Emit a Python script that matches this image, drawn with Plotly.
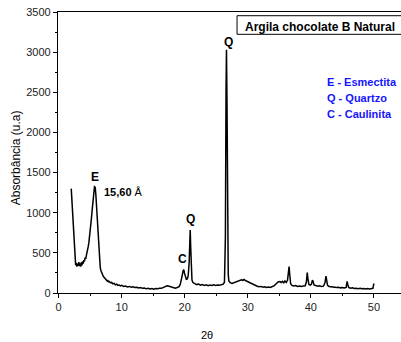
import plotly.graph_objects as go

two_theta = [2.00, 2.05, 2.10, 2.20, 2.30, 2.40, 2.50, 2.60, 2.70, 2.80, 2.90, 3.00, 3.10, 3.20, 3.30, 3.40, 3.50, 3.60, 3.70, 3.80, 3.90,
             4.00, 4.10, 4.20, 4.30, 4.40, 4.50, 4.60, 4.70, 4.80, 4.90, 5.00, 5.10, 5.20, 5.30, 5.40, 5.50, 5.60, 5.65, 5.70, 5.75,
             5.80, 5.85, 5.90, 6.00, 6.10, 6.20, 6.30, 6.40, 6.50, 6.60, 6.70, 6.80, 6.90, 7.00, 7.10, 7.20, 7.30, 7.40, 7.50, 7.60,
             7.70, 7.80, 7.90, 8.00, 8.20, 8.40, 8.60, 8.80, 9.00, 9.20, 9.40, 9.60, 9.80, 10.0, 10.3, 10.6, 10.9, 11.2, 11.5, 11.8,
             12.1, 12.4, 12.7, 13.0, 13.3, 13.6, 13.9, 14.2, 14.5, 14.8, 15.1, 15.4, 15.7, 16.0, 16.3, 16.6, 16.9, 17.2, 17.4, 17.6,
             17.9, 18.2, 18.5, 18.8, 19.1, 19.3, 19.45, 19.6, 19.75, 19.85, 19.95, 20.1, 20.25, 20.4, 20.55, 20.7, 20.8, 20.87, 20.95,
             21.05, 21.15, 21.3, 21.6, 21.9, 22.2, 22.5, 22.8, 23.1, 23.4, 23.7, 24.0, 24.3, 24.6, 24.9, 25.2, 25.5, 25.8, 26.1, 26.3,
             26.45, 26.55, 26.62, 26.70, 26.80, 26.90, 27.0, 27.2, 27.5, 27.8, 28.1, 28.4, 28.7, 29.0, 29.2, 29.4, 29.7, 30.0, 30.3,
             30.6, 30.9, 31.2, 31.5, 31.8, 32.1, 32.4, 32.7, 33.0, 33.3, 33.6, 33.9, 34.2, 34.5, 34.8, 35.1, 35.3, 35.5, 35.7, 35.9,
             36.1, 36.3, 36.45, 36.55, 36.65, 36.8, 37.0, 37.3, 37.6, 37.9, 38.2, 38.5, 38.8, 39.1, 39.3, 39.43, 39.53, 39.7, 39.9,
             40.1, 40.25, 40.35, 40.5, 40.8, 41.1, 41.4, 41.7, 42.0, 42.25, 42.4, 42.5, 42.65, 42.9, 43.2, 43.5, 43.8, 44.1, 44.4,
             44.7, 45.0, 45.3, 45.6, 45.75, 45.85, 46.0, 46.3, 46.6, 46.9, 47.2, 47.5, 47.8, 48.1, 48.4, 48.7, 49.0, 49.3, 49.6,
             49.85, 49.95, 50.0]

intensity = [1300, 1230, 1120, 940, 760, 600, 470, 390, 345, 375, 330, 365, 340, 385, 335, 370, 330, 380, 345, 395, 365,
             410, 395, 440, 425, 470, 500, 540, 580, 630, 690, 760, 840, 930, 1020, 1120, 1210, 1290, 1250, 1335, 1280,
             1320, 1270, 1230, 1100, 940, 770, 620, 490, 390, 320, 280, 255, 235, 215, 205, 195, 185, 180, 170, 165,
             150, 155, 140, 145, 128, 132, 115, 120, 102, 110, 95, 100, 88, 95, 82, 88, 76, 82, 72, 78,
             68, 72, 62, 68, 58, 62, 52, 58, 50, 56, 48, 55, 52, 60, 58, 70, 78, 90, 88, 82,
             70, 66, 60, 68, 80, 110, 150, 220, 280, 290, 250, 195, 170, 175, 215, 380, 720, 785, 560,
             260, 160, 130, 118, 105, 112, 98, 105, 95, 102, 92, 100, 93, 101, 94, 100, 96, 104, 110, 135,
             700, 2500, 3030, 2400, 700, 230, 150, 128, 120, 130, 138, 150, 158, 165, 158, 168, 152, 140, 128,
             115, 100, 92, 85, 78, 82, 72, 78, 70, 75, 68, 78, 92, 115, 138, 142, 130, 145, 128, 150,
             132, 158, 260, 330, 230, 115, 95, 88, 92, 82, 88, 80, 86, 90, 140, 255, 180, 105, 98,
             110, 160, 150, 100, 90, 85, 90, 80, 85, 130, 210, 160, 95, 82, 78, 72, 76, 68, 72,
             64, 68, 62, 70, 145, 110, 70, 60, 64, 56, 60, 54, 58, 52, 57, 50, 56, 50, 55,
             58, 100, 118]

peak_labels = ["E", "Q", "C", "Q"]
peak_label_x = [5.78, 26.9, 19.7, 20.86]
peak_label_y = [1448, 3125, 420, 921]

legend_lines = ["E - Esmectita", "Q - Quartzo", "C - Caulinita"]
legend_y = [2628, 2428, 2229]

FONT = "Arial, 'Liberation Sans', sans-serif"

fig = go.Figure()
fig.add_trace(go.Scatter(x=two_theta, y=intensity, mode="lines",
                         line=dict(color="black", width=1.5), showlegend=False))

for t, x, y in zip(peak_labels, peak_label_x, peak_label_y):
    fig.add_annotation(x=x, y=y, text=f"<b>{t}</b>", showarrow=False,
                       xanchor="center", yanchor="middle",
                       font=dict(family=FONT, size=12, color="black"))

fig.add_annotation(x=6.9, y=1262, text="<b>15,60</b> Å", showarrow=False, xanchor="left",
                   yanchor="middle", font=dict(family=FONT, size=11, color="black"))

for t, y in zip(legend_lines, legend_y):
    fig.add_annotation(x=42.3, y=y, text=f"<b>{t}</b>", showarrow=False, xanchor="left",
                       yanchor="middle", font=dict(family=FONT, size=11, color="#1414ff"))

# title box
fig.add_shape(type="rect", xref="paper", yref="paper", x0=0.522, x1=1.05, y0=0.9206, y1=0.9868,
              line=dict(color="black", width=1), fillcolor="white", layer="above")
fig.add_annotation(xref="paper", yref="paper", x=0.540, y=0.9456, text="<b>Argila chocolate B Natural</b>",
                   showarrow=False, xanchor="left", yanchor="middle",
                   font=dict(family=FONT, size=12, color="black"))

fig.add_annotation(xref="paper", yref="paper", x=-0.122, y=0.48, text="Absorbância (u.a)",
                   textangle=-90, showarrow=False, xanchor="center", yanchor="middle",
                   font=dict(family=FONT, size=12, color="black"))
fig.add_annotation(xref="paper", yref="paper", x=0.434, y=-0.149, text="2θ",
                   showarrow=False, xanchor="center", yanchor="middle",
                   font=dict(family=FONT, size=11, color="black"))

fig.update_layout(
    width=401, height=342,
    margin=dict(l=58, r=0, t=12, b=49),
    paper_bgcolor="white", plot_bgcolor="white",
    font=dict(family=FONT, size=11, color="#222222"),
    xaxis=dict(range=[-0.1, 54.3], showgrid=False, zeroline=False, showline=True,
               linecolor="black", linewidth=1.2, mirror=True, ticks="outside", ticklen=4,
               tickcolor="black", dtick=10, tick0=0,
               minor=dict(ticks="outside", ticklen=2, dtick=5, tickcolor="black")),
    yaxis=dict(range=[0, 3500], showgrid=False, zeroline=False, showline=True,
               linecolor="black", linewidth=1.2, ticks="outside", ticklen=4,
               tickcolor="black", dtick=500, tick0=0,
               minor=dict(ticks="outside", ticklen=2, dtick=250, tickcolor="black")),
)

fig.write_html("out.html", config={"displayModeBar": False},
               post_script="document.body.style.margin='0';document.body.style.overflow='hidden';")
